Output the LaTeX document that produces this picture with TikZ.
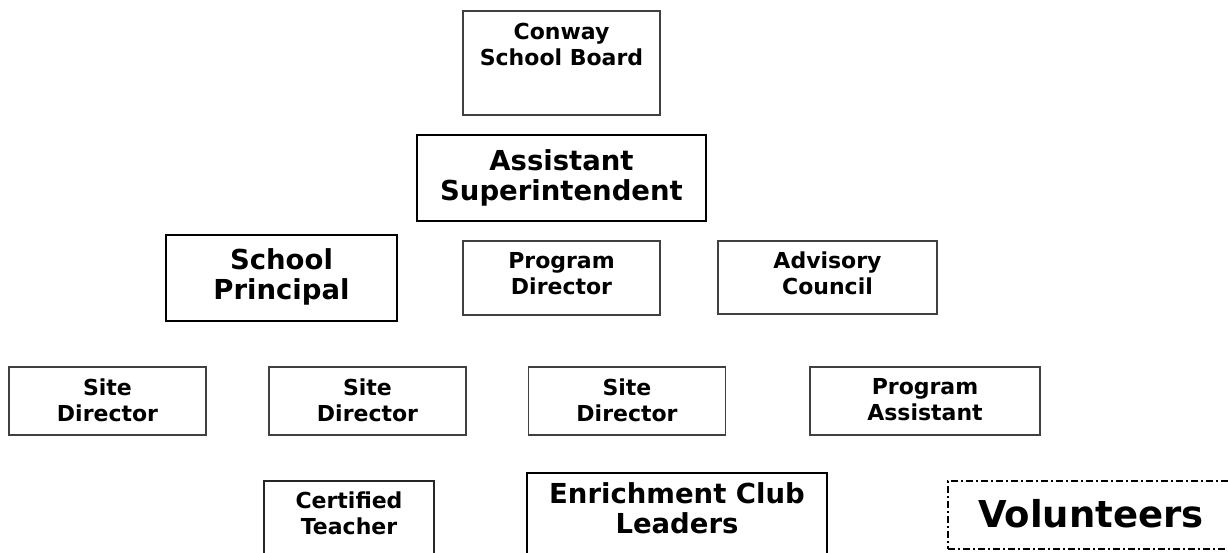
\documentclass[tikz,border=0pt]{standalone}
\usepackage{fontspec}
\setmainfont{DejaVu Sans}
\usetikzlibrary{positioning}

\begin{document}
\begin{tikzpicture}[x=1pt,y=-1pt,
  box/.style={draw=black!75,line width=1.7pt,fill=white,inner sep=0pt},
  darkbox/.style={box,draw=black},
  smalltxt/.style={font=\fontsize{22}{26}\selectfont\bfseries,align=center,inner sep=0pt,anchor=north},
  bigtxt/.style={font=\fontsize{27.5}{30}\selectfont\bfseries,align=center,inner sep=0pt}]
  \useasboundingbox (0,0) rectangle (1228,553);
  \clip (0,0) rectangle (1228,553);

  % Top: board and superintendent
  \node[box,minimum width=197pt,minimum height=104pt,
    label={[smalltxt,yshift=-13pt]north:Conway\\School Board}] (board) at (561.5,63) {};
  \node[darkbox,bigtxt,minimum width=289pt,minimum height=86pt] (asst) at (561.5,178) {Assistant\\Superintendent};

  % Second row
  \node[darkbox,minimum width=231pt,minimum height=86pt,
    label={[bigtxt,anchor=north,yshift=-14pt]north:School\\Principal}] (principal) at (281.5,278) {};
  \node[box,minimum width=197pt,minimum height=74pt,
    label={[smalltxt,yshift=-12pt]north:Program\\Director}] (progdir) at (561.5,278) {};
  \node[box,minimum width=219pt,minimum height=73pt,
    label={[smalltxt,yshift=-11pt]north:Advisory\\Council}] (advisory) at (827.5,277.5) {};

  % Third row
  \foreach \name/\cx in {site1/107.5,site2/367.5,site3/627}
    \node[box,minimum width=197pt,minimum height=68pt,
      label={[smalltxt,yshift=-12pt]north:Site\\Director}] (\name) at (\cx,401) {};
  \node[box,minimum width=230pt,minimum height=68pt,
    label={[smalltxt,yshift=-12pt]north:Program\\Assistant}] (progasst) at (925,401) {};

  % Bottom row, cut by the page edge
  \node[box,draw=black!85,minimum width=170pt,minimum height=119pt,
    label={[smalltxt,yshift=-11pt]north:Certified\\Teacher}] (certified) at (349,540.5) {};
  \node[darkbox,minimum width=300pt,minimum height=127pt,
    label={[bigtxt,anchor=north,yshift=-10pt]north:Enrichment Club\\Leaders}] (enrich) at (677,536.5) {};
  \node[draw=black,line width=1.7pt,dash pattern=on 7pt off 3pt on 2pt off 3pt,
    minimum width=286pt,minimum height=68pt,inner sep=0pt,
    font=\fontsize{37}{44}\selectfont\bfseries] (volunteers) at (1091,515) {\raisebox{3pt}{Volunteers}};
\end{tikzpicture}
\end{document}
